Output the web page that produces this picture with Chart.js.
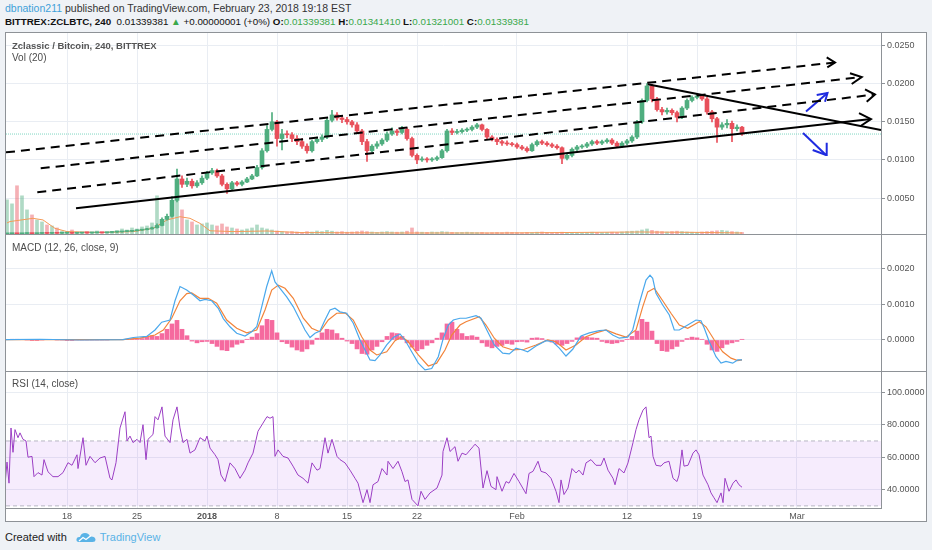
<!DOCTYPE html>
<html>
<head>
<meta charset="utf-8">
<script src="https://cdn.jsdelivr.net/npm/chart.js"></script>
<style>
  body { margin: 0; width: 932px; height: 550px; background: #eff2f6; position: relative; overflow: hidden;
         font-family: "Liberation Sans", Arial, sans-serif; }
  .abs { position: absolute; white-space: nowrap; }
  #frame { left: 5px; top: 32px; width: 922px; height: 490px; box-sizing: border-box; border: 1px solid #8e9297; background: #fff; }
  .pane { position: absolute; }
  .sep { position: absolute; height: 1px; background: #8e9297; z-index: 3; }
  .head1 { left: 5px; top: 1px; font-size: 10.5px; color: #333; line-height: 14px; }
  .head1 .user { color: #3ea1d9; }
  .head2 { left: 5px; top: 15px; font-size: 9.8px; color: #111; line-height: 13px; }
  .g { color: #3aa84b; }
  .ptitle { left: 12px; font-size: 10px; color: #4c4c4c; line-height: 12px; z-index: 4; }
  .foot { left: 5px; top: 530px; font-size: 11px; color: #222; line-height: 14px; }
  .foot .tv { color: #5ab3e6; }
</style>
</head>
<body>
<div class="abs head1"><span class="user">dbnation211</span> published on TradingView.com, February 23, 2018 19:18 EST</div>
<div class="abs head2"><b>BITTREX:ZCLBTC, 240</b>&nbsp; 0.01339381 <span class="g">&#9650;</span> +0.00000001 (+0%) <b>O:</b><span class="g">0.01339381</span> <b>H:</b><span class="g">0.01341410</span> <b>L:</b><span class="g">0.01321001</span> <b>C:</b><span class="g">0.01339381</span></div>

<div id="frame" class="abs"></div>
<div class="pane" style="left:6px;top:33px;width:920px;height:201px"><canvas id="cPrice"></canvas></div>
<div class="pane" style="left:6px;top:234px;width:920px;height:137px"><canvas id="cMacd"></canvas></div>
<div class="pane" style="left:6px;top:371px;width:920px;height:151px"><canvas id="cRsi"></canvas></div>
<div class="sep" style="left:5px;top:234px;width:922px"></div>
<div class="sep" style="left:5px;top:371px;width:922px"></div>
<div class="sep" style="left:5px;top:508px;width:877px"></div>

<div class="abs ptitle" style="top:40px;font-weight:bold;font-size:9.5px;color:#555">Zclassic / Bitcoin, 240, BITTREX</div>
<div class="abs ptitle" style="top:52px">Vol (20)</div>
<div class="abs ptitle" style="top:242px">MACD (12, 26, close, 9)</div>
<div class="abs ptitle" style="top:378px">RSI (14, close)</div>

<div class="abs foot">Created with
  <svg width="20" height="12" viewBox="0 0 20 12" style="vertical-align:-2px;margin:0 4px 0 6px">
    <path d="M3 11 Q0 11 0.5 8 Q1 5.5 4 6 Q5 2 9 2 Q13 2 14 5.5 Q19 5 19.5 8.5 Q19.5 11 16.5 11 Z" fill="#5ab3e6"/>
    <path d="M3 10 L7 6.5 L10 8.5 L15 4.5" stroke="#fff" stroke-width="1.3" fill="none"/>
  </svg><span class="tv">TradingView</span></div>

<script>
// time is in days from 1 Jan 2018, one candle every 12 hours
const X_MIN = -20.1, X_MAX = 67.4;
const tickDays = [-14, -7, 0, 7, 14, 21, 31, 42, 49, 59];
const tickLabels = ['18', '25', '2018', '8', '15', '22', 'Feb', '12', '19', 'Mar'];

const FIRST_CANDLE_DAY = -20;
const CANDLE_STEP = 0.5;

const opens = [0.00030,0.00032,0.00035,0.00031,0.00034,0.00036,0.00033,0.00035,0.00037,0.00036,
  0.00038,0.00037,0.00039,0.00040,0.00038,0.00041,0.00043,0.00042,0.00044,0.00046,
  0.00045,0.00048,0.00052,0.00055,0.00060,0.00063,0.00070,0.00078,0.00085,0.00095,
  0.00110,0.00140,0.00220,0.00260,0.00470,0.00750,0.00680,0.00720,0.00660,0.00700,
  0.00760,0.00830,0.00860,0.00790,0.00680,0.00620,0.00700,0.00680,0.00710,0.00750,
  0.00790,0.00900,0.01120,0.01400,0.01500,0.01280,0.01340,0.01330,0.01280,0.01240,
  0.01180,0.01120,0.01240,0.01270,0.01300,0.01520,0.01590,0.01550,0.01530,0.01500,
  0.01460,0.01380,0.01240,0.01120,0.01180,0.01210,0.01260,0.01340,0.01380,0.01360,
  0.01400,0.01280,0.01060,0.01000,0.01010,0.01000,0.01010,0.01030,0.01120,0.01380,
  0.01360,0.01370,0.01390,0.01400,0.01430,0.01460,0.01400,0.01300,0.01270,0.01240,
  0.01220,0.01210,0.01200,0.01170,0.01150,0.01120,0.01200,0.01240,0.01220,0.01200,
  0.01180,0.01160,0.01020,0.01060,0.01140,0.01170,0.01180,0.01210,0.01240,0.01220,
  0.01240,0.01260,0.01220,0.01180,0.01220,0.01250,0.01300,0.01500,0.01780,0.01970,
  0.01800,0.01660,0.01630,0.01650,0.01620,0.01560,0.01680,0.01780,0.01820,0.01840,
  0.01800,0.01630,0.01540,0.01430,0.01460,0.01480,0.01410,0.01430];
const closes = [0.00032,0.00035,0.00031,0.00034,0.00036,0.00033,0.00035,0.00037,0.00036,0.00038,
  0.00037,0.00039,0.00040,0.00038,0.00041,0.00043,0.00042,0.00044,0.00046,0.00045,
  0.00048,0.00052,0.00055,0.00060,0.00063,0.00070,0.00078,0.00085,0.00095,0.00110,
  0.00140,0.00220,0.00260,0.00470,0.00750,0.00680,0.00720,0.00660,0.00700,0.00760,
  0.00830,0.00860,0.00790,0.00680,0.00620,0.00700,0.00680,0.00710,0.00750,0.00790,
  0.00900,0.01120,0.01400,0.01500,0.01280,0.01340,0.01330,0.01280,0.01240,0.01180,
  0.01120,0.01240,0.01270,0.01300,0.01520,0.01590,0.01550,0.01530,0.01500,0.01460,
  0.01380,0.01240,0.01120,0.01180,0.01210,0.01260,0.01340,0.01380,0.01360,0.01400,
  0.01280,0.01060,0.01000,0.01010,0.01000,0.01010,0.01030,0.01120,0.01380,0.01360,
  0.01370,0.01390,0.01400,0.01430,0.01460,0.01400,0.01300,0.01270,0.01240,0.01220,
  0.01210,0.01200,0.01170,0.01150,0.01120,0.01200,0.01240,0.01220,0.01200,0.01180,
  0.01160,0.01020,0.01060,0.01140,0.01170,0.01180,0.01210,0.01240,0.01220,0.01240,
  0.01260,0.01220,0.01180,0.01220,0.01250,0.01300,0.01500,0.01780,0.01970,0.01800,
  0.01660,0.01630,0.01650,0.01620,0.01560,0.01680,0.01780,0.01820,0.01840,0.01800,
  0.01630,0.01540,0.01430,0.01460,0.01480,0.01410,0.01430,0.01339];
const highs = [0.00036,0.00038,0.00037,0.00037,0.00039,0.00038,0.00038,0.00040,0.00039,0.00041,
  0.00041,0.00042,0.00043,0.00043,0.00044,0.00046,0.00046,0.00047,0.00049,0.00049,
  0.00051,0.00056,0.00059,0.00064,0.00068,0.00075,0.00083,0.00090,0.00102,0.00120,
  0.00160,0.00240,0.00290,0.00520,0.00880,0.00790,0.00760,0.00750,0.00730,0.00790,
  0.00850,0.00890,0.00880,0.00810,0.00700,0.00720,0.00720,0.00730,0.00770,0.00810,
  0.00930,0.01150,0.01450,0.01620,0.01520,0.01400,0.01380,0.01360,0.01320,0.01280,
  0.01210,0.01260,0.01300,0.01330,0.01550,0.01650,0.01620,0.01580,0.01560,0.01520,
  0.01490,0.01400,0.01270,0.01200,0.01240,0.01280,0.01370,0.01420,0.01400,0.01440,
  0.01420,0.01300,0.01080,0.01040,0.01030,0.01030,0.01050,0.01140,0.01400,0.01410,
  0.01400,0.01410,0.01420,0.01450,0.01480,0.01470,0.01410,0.01320,0.01290,0.01260,
  0.01250,0.01230,0.01220,0.01190,0.01170,0.01220,0.01260,0.01260,0.01240,0.01220,
  0.01200,0.01170,0.01080,0.01160,0.01190,0.01200,0.01230,0.01260,0.01260,0.01260,
  0.01280,0.01280,0.01240,0.01240,0.01270,0.01320,0.01520,0.01800,0.02000,0.01990,
  0.01820,0.01690,0.01680,0.01670,0.01640,0.01700,0.01800,0.01840,0.01870,0.01860,
  0.01820,0.01650,0.01560,0.01490,0.01530,0.01510,0.01460,0.01440];
const lows = [0.00028,0.00030,0.00029,0.00030,0.00032,0.00031,0.00032,0.00034,0.00033,0.00034,
  0.00034,0.00035,0.00036,0.00036,0.00036,0.00039,0.00040,0.00040,0.00042,0.00042,
  0.00043,0.00046,0.00050,0.00053,0.00057,0.00060,0.00067,0.00074,0.00081,0.00090,
  0.00105,0.00135,0.00210,0.00250,0.00450,0.00640,0.00650,0.00630,0.00640,0.00680,
  0.00740,0.00810,0.00770,0.00660,0.00560,0.00600,0.00660,0.00660,0.00700,0.00740,
  0.00780,0.00880,0.01100,0.01380,0.01180,0.01130,0.01290,0.01240,0.01200,0.01150,
  0.01090,0.01100,0.01220,0.01240,0.01280,0.01500,0.01520,0.01490,0.01470,0.01430,
  0.01350,0.01200,0.00980,0.01100,0.01150,0.01190,0.01240,0.01320,0.01320,0.01340,
  0.01260,0.01040,0.00950,0.00980,0.00970,0.00980,0.00990,0.01020,0.01100,0.01330,
  0.01340,0.01350,0.01370,0.01380,0.01410,0.01380,0.01280,0.01250,0.01200,0.01190,
  0.01190,0.01180,0.01150,0.01130,0.01100,0.01110,0.01180,0.01200,0.01180,0.01160,
  0.01140,0.00950,0.01000,0.01040,0.01120,0.01150,0.01160,0.01190,0.01200,0.01200,
  0.01220,0.01200,0.01160,0.01160,0.01200,0.01230,0.01280,0.01480,0.01760,0.01760,
  0.01640,0.01590,0.01600,0.01590,0.01500,0.01540,0.01660,0.01760,0.01800,0.01780,
  0.01600,0.01500,0.01230,0.01400,0.01420,0.01240,0.01380,0.01320];
const volumes = [170,150,240,190,120,95,70,60,45,40,30,
  15,12,20,10,8,12,10,15,8,10,12,18,
  25,20,30,25,35,40,55,190,60,70,110,230,120,70,60,45,50,55,45,40,50,35,30,25,20,25,30,45,30,25,20,
  15,12,10,12,10,8,12,10,15,12,18,14,10,12,9,10,12,15,12,10,8,10,12,10,9,10,14,
  30,
  10,9,8,10,9,12,10,8,7,8,9,8,7,8,6,7,8,7,9,8,7,6,8,7,9,10,8,7,8,9,7,8,7,6,8,9,8,7,8,9,8,10,12,14,
  15,20,25,18,14,12,10,12,14,12,10,9,8,10,12,14,16,18,15,12,10,8];
const volMaDays = [-20.0,-19.7,-17.4,-16.4,-15.2,-14.0,-10.7,-7.4,-5.4,-4.0,-2.7,-1.7,-0.7,0.3,2.6,6.0,9.3,19.3,29.3,43.3,49.3,53.5];
const volMaValues = [55,62,78,70,28,12,7,12,28,70,86,78,53,16,12,15,7,5,5,10,8,5];
const lastPrice = 0.01339381;

// MACD (12, 26, close, 9)
const macdDays = [-20.1,-16.7,-12.7,-8.4,-7.37,-6.03,-5.2,-4.53,-3.7,-3.2,-2.7,-2.03,-1.37,-0.7,-0.2,0.47,1.13,1.63,2.3,2.97,
  3.8,4.47,4.97,5.47,5.97,6.47,6.8,7.3,7.97,8.63,9.3,9.8,10.3,10.8,11.3,11.8,12.3,12.8,13.3,13.97,
  14.63,15.3,15.8,16.3,16.8,17.3,17.97,18.63,19.3,19.8,20.47,21.13,21.8,22.47,23.13,23.63,24.13,24.63,25.3,25.9,
  26.9,27.4,28.07,28.73,29.57,30.23,30.9,31.57,32.07,32.9,33.9,34.57,35.23,35.9,36.57,37.4,38.23,39.23,39.9,40.57,
  41.23,42.07,42.57,43.23,43.9,44.3,44.57,44.9,45.57,46.23,46.73,47.23,48.07,48.9,49.4,49.73,50.23,50.9,51.4,51.9,
  52.57,53.07,53.5];
const macdValues = [0.00001,0.00002,0.0,0.00001,0.00007,0.0001,0.00028,0.0005,0.00056,0.0011,0.0015,0.0014,0.00126,0.0011,0.00114,0.0011,0.00089,0.0006,0.00037,0.00019,
  0.00011,0.00023,0.00037,0.00093,0.0015,0.00194,0.00163,0.00145,0.00121,0.00093,0.00056,0.00028,0.00007,0.00019,0.00025,0.00056,0.00084,0.00089,0.00079,0.00075,
  0.00047,0.0,-0.00028,-0.00056,-0.00058,-0.00042,-0.00014,0.00007,0.00017,0.0,-0.00033,-0.00065,-0.00084,-0.0008,-0.00047,0.00005,0.00042,0.00056,0.00061,0.00061,
  0.00068,0.00061,0.00023,-0.00014,-0.00037,-0.00039,-0.00023,-0.00028,-0.00033,-0.00017,-0.00002,-0.00005,-0.00023,-0.00045,-0.00026,0.00011,0.0002,0.00026,0.00028,0.00014,
  0.00005,0.00008,0.00028,0.00103,0.00168,0.00182,0.00173,0.00131,0.00098,0.0007,0.00028,0.00028,0.00042,0.00056,0.00054,0.00033,-0.00005,-0.00047,-0.00065,-0.0006,
  -0.00065,-0.00056,-0.00056];
const signalDays = [-20.1,-8.4,-6.7,-5.2,-4.37,-3.53,-2.7,-2.03,-1.53,-0.7,0.13,0.97,1.97,2.97,3.97,4.97,5.8,6.47,7.13,7.8,
  8.63,9.63,10.47,11.3,12.13,12.97,13.8,14.63,15.47,16.3,16.97,17.97,18.8,19.47,20.13,21.13,22.13,22.97,23.8,24.47,
  25.3,25.9,27.23,27.9,28.73,29.57,30.57,31.73,32.9,34.07,34.9,35.9,36.9,37.9,38.9,39.9,40.9,41.9,42.9,43.57,
  44.07,44.73,45.57,46.4,47.23,48.07,49.23,49.9,50.73,51.57,52.4,53.07,53.5];
const signalValues = [0.00001,0.00001,0.00005,0.00014,0.00028,0.00061,0.0011,0.0013,0.00132,0.00117,0.00117,0.00103,0.00056,0.00033,0.0002,0.00028,0.00084,0.0014,0.00154,0.00145,
  0.00117,0.00061,0.00033,0.00023,0.00056,0.00075,0.00076,0.00056,0.00009,-0.00028,-0.00042,-0.00033,-0.00002,0.00009,-0.00005,-0.00042,-0.00073,-0.00065,-0.00028,0.00014,
  0.00042,0.00051,0.00065,0.00042,0.00005,-0.00019,-0.00028,-0.00026,-0.00014,0.0,-0.00005,-0.00028,-0.00014,0.00009,0.0002,0.00028,0.00017,0.00008,0.00028,0.00093,
  0.00135,0.00145,0.0011,0.00075,0.00042,0.00033,0.00051,0.00037,0.0,-0.00033,-0.00051,-0.00058,-0.00056];
const histValues = [0.00001,0.00002,0.00002,0.00001,0,-0.00001,-0.00001,0,0.00001,0.00001,0,0,-0.00001,-0.00001,0,0,0,0,0,0,0,0.00001,0.00001,0.00001,
  0.00002,0.00003,0.00002,0.00004,0.00008,0.00012,0.00010,0.00018,0.00030,0.00045,
  0.00055,0.00030,0.00012,-0.00003,-0.00008,-0.00005,-0.00004,-0.00010,-0.00018,-0.00028,
  -0.00030,-0.00020,-0.00012,-0.00008,0.00002,0.00008,0.00018,0.00040,0.00058,0.00055,
  0.00020,-0.00005,-0.00010,-0.00020,-0.00028,-0.00032,-0.00025,-0.00012,0.00005,0.00020,
  0.00030,0.00028,0.00018,0.00005,-0.00003,-0.00010,-0.00025,-0.00038,-0.00040,-0.00028,
  -0.00018,-0.00005,0.00010,0.00020,0.00018,0.00010,-0.00008,-0.00020,-0.00030,-0.00025,
  -0.00015,-0.00008,0.00005,0.00020,0.00045,0.00050,0.00030,0.00018,0.00010,0.00012,
  0.00008,-0.00008,-0.00018,-0.00022,-0.00018,-0.00015,-0.00010,-0.00012,-0.00005,-0.00004,
  -0.00006,0.00005,0.00006,0.00004,-0.00002,-0.00006,-0.00012,-0.00015,-0.00010,-0.00004,
  0.00006,0.00010,0.00008,0.00006,0.00005,-0.00004,-0.00008,-0.00010,-0.00008,-0.00004,
  0.00002,0.00010,0.00025,0.00058,0.00050,0.00025,-0.00010,-0.00030,-0.00032,-0.00025,
  -0.00018,-0.00004,0.00004,0.00008,0.00006,0.00002,-0.00012,-0.00028,-0.00032,-0.00022,
  -0.00012,-0.00008,-0.00004,0.00002];

// RSI (14, close)
const rsiDays = [-20.2,-20.0,-19.8,-19.6,-19.4,-19.2,-18.9,-18.7,-18.4,-18.1,-17.9,-17.5,-17.3,-16.9,-16.5,-16.3,-15.9,-15.4,-14.9,-14.4,
  -13.9,-13.5,-13.0,-12.9,-12.4,-12.1,-11.7,-11.2,-10.7,-10.2,-9.7,-9.5,-9.1,-8.7,-8.2,-8.0,-7.7,-7.4,-7.0,-6.7,
  -6.4,-6.1,-5.9,-5.4,-5.2,-4.9,-4.5,-4.2,-3.7,-3.4,-3.0,-2.7,-2.4,-2.0,-1.7,-1.2,-0.7,-0.2,0.0,0.3,
  0.8,1.1,1.4,1.8,2.3,2.8,3.3,3.8,4.1,4.6,5.1,5.6,6.0,6.3,6.6,6.8,7.1,7.6,8.1,8.6,
  9.1,9.6,10.1,10.5,11.0,11.3,11.8,12.1,12.5,13.0,13.3,13.8,14.3,14.8,15.1,15.6,16.0,16.3,16.6,17.1,
  17.5,18.0,18.1,18.6,19.1,19.5,19.8,20.1,20.5,21.1,21.4,21.8,22.3,23.0,23.5,23.6,24.0,24.3,24.8,25.1,
  25.5,25.9,26.6,26.8,27.2,27.6,28.0,28.4,28.9,29.0,29.5,29.9,30.2,30.7,31.2,31.9,32.2,32.6,33.1,33.4,
  33.9,34.4,34.9,35.2,35.4,35.7,36.1,36.5,36.9,37.2,37.6,37.9,38.4,38.9,39.4,39.7,40.1,40.6,40.8,41.2,
  41.7,42.1,42.6,42.9,43.2,43.6,43.9,44.2,44.4,44.6,44.9,45.4,45.7,46.2,46.6,47.0,47.2,47.5,47.7,48.1,
  48.6,48.9,49.2,49.6,50.1,50.4,50.7,51.0,51.4,51.6,51.8,52.2,52.6,52.9,53.2,53.5];
const rsiValues = [43,57,44,78,63,77,72,75,71,70,60,60.5,48,50.5,49,58.5,51,48,48,50.5,
  56.6,55,61.5,53,72,55,60.5,56.6,59.5,60.5,47,46,56.6,78,88,70,73,69,71,69,
  80,58.5,71,74,85,83,91,73,69,83,91,78,69,71,62.5,64.5,72,70,73,65.6,
  61.5,58.5,49,45,56.5,53,47,52,56.5,62.5,76,81,85,84,85,60.5,64.5,60.5,59.5,54.5,
  49,47,44,56.5,52,53,72,62.5,71,60.5,58.5,56.5,52,47,44,32,40,32,43,45,
  53,49,57.5,53,57.5,51,45,46,34,30,39,34,38,41,49,63.5,72,63.5,66.5,57.5,
  62.5,61.5,66.5,68,65.6,41,51.7,42,40,48,39,45,44,50,45,37.5,50,51.3,57.5,51.3,
  50.3,47,39,32,46,37,41,53,50.3,52,49,56.5,58.5,55,55,59.5,52,47,43,53,
  50.3,56.5,69,77,83,89,91,72,73,60.5,55,54.5,56.5,57.5,47,45,49,64.5,54.5,55,
  62.5,64.5,61.5,49,43,38,35,32,38,32,47,39,44,46,43,41.5];
const rsiBands = [70, 30];

// trend lines and arrows drawn by the author, as [day, price] anchors
const supportLine = [[-13.1, 0.00365], [66.4, 0.01536]];
const supportHead = [[65.2, 0.01615], [66.4, 0.01536], [65.4, 0.01448]];
const fallingLine = [[44.07, 0.01992], [67.4, 0.01392]];
const channelLines = [
  [[-20.1, 0.01099], [62.8, 0.02278]],
  [[-16.63, 0.00890], [65.47, 0.02087]],
  [[-16.97, 0.00575], [66.8, 0.01858]]
];
const channelHeads = [
  [[61.97, 0.02346], [62.8, 0.02278], [62.03, 0.02215]],
  [[64.3, 0.02136], [65.47, 0.02087], [64.47, 0.01996]],
  [[65.8, 0.01926], [66.8, 0.01858], [65.97, 0.01763]]
];
const blueArrows = [
  [[59.9, 0.01635], [62.05, 0.01878]], [[60.97, 0.01853], [62.05, 0.01878], [61.8, 0.01764]],
  [[59.6, 0.01353], [61.9, 0.01064]], [[60.57, 0.0113], [61.9, 0.01064], [61.97, 0.01225]]
];

const priceTicks = [0.005, 0.01, 0.015, 0.02, 0.025];
const macdTicks = [0, 0.001, 0.002];
const rsiTicks = [40, 60, 80, 100];

const FONT = '"Liberation Sans", Arial, sans-serif';
const GRID = '#e9edf3';
const AXIS = '#8e9297';
const AXIS_W = 45;
const UP = '#4fae7f', DOWN = '#e8505b';

const candleDays = closes.map((_, i) => FIRST_CANDLE_DAY + i * CANDLE_STEP);
const isUp = closes.map((c, i) => c >= opens[i]);
const pts = arr => arr.map(p => ({ x: p[0], y: p[1] }));

function fixedTicks(list) {
  return scale => { scale.ticks = list.map(v => ({ value: v })); };
}

function timeAxis(withLabels) {
  return {
    type: 'linear', min: X_MIN, max: X_MAX, offset: false,
    afterBuildTicks: fixedTicks(tickDays),
    afterFit: s => { s.height = withLabels ? 14 : 0; s.paddingLeft = 0; s.paddingRight = 0; },
    grid: { color: GRID, drawTicks: false, offset: false },
    border: { display: false },
    ticks: {
      display: withLabels, autoSkip: false, maxRotation: 0, padding: 3, color: '#555',
      font: ctx => ({ size: 9, family: FONT, weight: tickLabels[ctx.index] === '2018' ? 'bold' : 'normal' }),
      callback: (v, i) => tickLabels[i]
    }
  };
}

function rightAxis(min, max, ticks) {
  return {
    position: 'right', min: min, max: max,
    afterBuildTicks: fixedTicks(ticks),
    afterFit: s => { s.width = AXIS_W; s.paddingTop = 0; s.paddingBottom = 0; },
    grid: { color: GRID, tickLength: 4, tickColor: AXIS },
    border: { display: true, color: AXIS },
    ticks: {
      color: '#555', padding: 2, font: { size: 9, family: FONT },
      callback: v => (Math.abs(v) < 1e-9 ? 0 : v).toFixed(4)
    }
  };
}

function baseOptions(scales) {
  return {
    responsive: true, maintainAspectRatio: false, animation: false, events: [],
    layout: { padding: 0 },
    plugins: { legend: { display: false }, tooltip: { enabled: false } },
    scales: scales
  };
}

function drawing(points, color, dash, order) {
  return {
    type: 'line', data: pts(points), borderColor: color, borderWidth: 2,
    borderDash: dash || [], pointRadius: 0, fill: false, tension: 0, order: order || 0
  };
}

// ---- price pane with volume ----
const priceSets = [];
priceSets.push(drawing(supportLine, '#000'));
priceSets.push(drawing(supportHead, '#000'));
priceSets.push(drawing(fallingLine, '#000'));
channelLines.forEach(l => priceSets.push(drawing(l, '#000', [9, 6])));
channelHeads.forEach(l => priceSets.push(drawing(l, '#000')));
blueArrows.forEach(l => priceSets.push(drawing(l, '#1f2be0')));
priceSets.push({
  type: 'bar', data: candleDays.map((d, i) => ({ x: d, y: [opens[i], closes[i]] })),
  backgroundColor: isUp.map(u => u ? UP : DOWN), barThickness: 4, minBarLength: 1,
  grouped: false, yAxisID: 'y', order: 1
});
priceSets.push({
  type: 'bar', data: candleDays.map((d, i) => ({ x: d, y: [lows[i], highs[i]] })),
  backgroundColor: isUp.map(u => u ? UP : DOWN), barThickness: 1,
  grouped: false, yAxisID: 'y', order: 2
});
priceSets.push({
  type: 'line', data: [{ x: X_MIN, y: lastPrice }, { x: X_MAX, y: lastPrice }],
  borderColor: '#7fd6c2', borderWidth: 1, borderDash: [1, 1], pointRadius: 0, yAxisID: 'y', order: 3
});
priceSets.push({
  type: 'line', data: volMaDays.map((d, i) => ({ x: d, y: volMaValues[i] })),
  borderColor: '#f59a57', borderWidth: 1, pointRadius: 0, yAxisID: 'yv', order: 4
});
priceSets.push({
  type: 'bar', data: candleDays.map((d, i) => ({ x: d, y: volumes[i] })),
  backgroundColor: isUp.map(u => u ? 'rgba(79,174,127,0.45)' : 'rgba(232,80,91,0.45)'),
  barThickness: 3, grouped: false, yAxisID: 'yv', order: 5
});

new Chart(document.getElementById('cPrice'), {
  type: 'bar',
  data: { datasets: priceSets },
  options: baseOptions({
    x: timeAxis(false),
    y: rightAxis(0.00028, 0.02665, priceTicks),
    yv: { display: false, min: 0, max: 1000 }
  })
});

// ---- MACD pane ----
new Chart(document.getElementById('cMacd'), {
  type: 'bar',
  data: {
    datasets: [
      { type: 'line', data: macdDays.map((d, i) => ({ x: d, y: macdValues[i] })),
        borderColor: '#4aa8ec', borderWidth: 1.2, pointRadius: 0, order: 0 },
      { type: 'line', data: signalDays.map((d, i) => ({ x: d, y: signalValues[i] })),
        borderColor: '#f2843a', borderWidth: 1.2, pointRadius: 0, order: 1 },
      { type: 'bar', data: candleDays.map((d, i) => ({ x: d, y: histValues[i] })),
        backgroundColor: '#f56a9f', barThickness: 4, grouped: false, order: 2 }
    ]
  },
  options: baseOptions({
    x: timeAxis(false),
    y: rightAxis(-0.00087, 0.002973, macdTicks)
  })
});

// ---- RSI pane ----
new Chart(document.getElementById('cRsi'), {
  type: 'line',
  data: {
    datasets: [
      { data: rsiDays.map((d, i) => ({ x: d, y: rsiValues[i] })),
        borderColor: '#9b3fc4', borderWidth: 1, pointRadius: 0, order: 0 },
      { data: [{ x: X_MIN, y: rsiBands[0] }, { x: X_MAX, y: rsiBands[0] }],
        borderColor: '#b7b7c2', borderWidth: 1, borderDash: [4, 3], pointRadius: 0, order: 1 },
      { data: [{ x: X_MIN, y: rsiBands[1] }, { x: X_MAX, y: rsiBands[1] }],
        borderColor: '#b7b7c2', borderWidth: 1, borderDash: [4, 3], pointRadius: 0, order: 2,
        fill: { value: rsiBands[0] }, backgroundColor: 'rgba(165,70,235,0.10)' }
    ]
  },
  options: baseOptions({
    x: timeAxis(true),
    y: rightAxis(28.7, 113.1, rsiTicks)
  })
});
</script>
</body>
</html>
